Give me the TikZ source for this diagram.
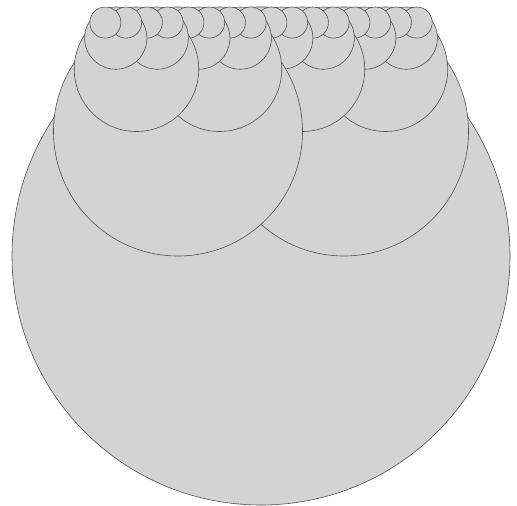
\documentclass[tikz,border=0pt]{standalone}
\usepackage{tikz}
\usepackage{xcolor}
\definecolor{bubblegray}{HTML}{D3D3D3}
\definecolor{bubbleline}{HTML}{505050}

\tikzset{bubble/.style={fill=bubblegray, draw=bubbleline, line width=0.6pt}}

% circle of radius #2 centred at x=#1, touching the top line; then right and left halves
\newcommand\bubbletree[3]{%
  \path[bubble] (#1,7+#2) circle[radius=#2pt];
  \ifnum#3>1
    \begingroup
    \pgfmathsetmacro\halfr{#2/2}%
    \pgfmathsetmacro\rightx{#1+#2/3}%
    \pgfmathsetmacro\leftx{#1-#2/3}%
    \pgfmathtruncatemacro\nextdepth{#3-1}%
    \edef\next{\noexpand\bubbletree{\rightx}{\halfr}{\nextdepth}%
      \noexpand\bubbletree{\leftx}{\halfr}{\nextdepth}}%
    \next
    \endgroup
  \fi}

\begin{document}
\begin{tikzpicture}[x=1pt, y=-1pt]
  \useasboundingbox (0,0) rectangle (517,506);
  % nested circles, left halves drawn over right halves
  \bubbletree{261}{249}{5}
\end{tikzpicture}
\end{document}
